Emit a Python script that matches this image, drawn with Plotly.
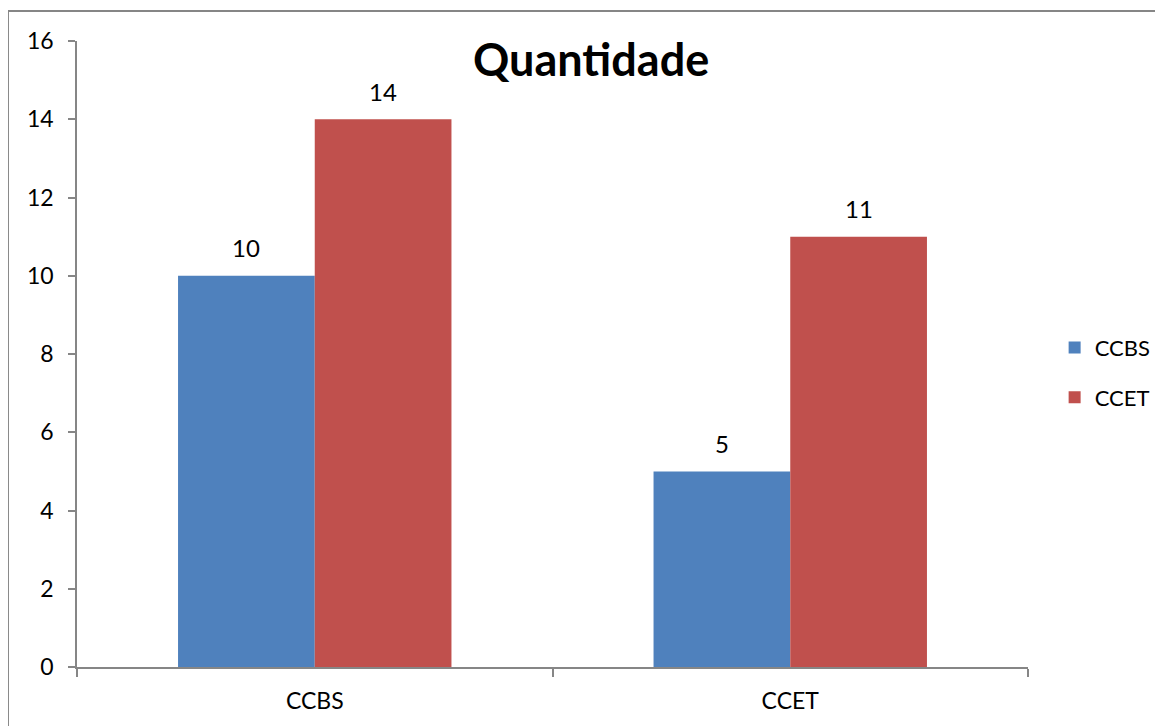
import plotly.graph_objects as go

categories = ["CCBS", "CCET"]
series_names = ["CCBS", "CCET"]
ccbs_values = [10, 5]
ccet_values = [14, 11]
y_ticks = [0, 2, 4, 6, 8, 10, 12, 14, 16]

colors = ["#4F81BD", "#C0504D"]
FONT = "Lato"
GRAY = "#868686"

fig = go.Figure()
for i, (name, vals) in enumerate(zip(series_names, [ccbs_values, ccet_values])):
    fig.add_trace(go.Bar(
        x=categories, y=vals, name=name,
        marker=dict(color=colors[i], line=dict(width=0)),
        legendgroup=name,
    ))

# data labels
bargap = 0.425
bar_w = (1 - bargap) / 2
for i, vals in enumerate([ccbs_values, ccet_values]):
    off = (i - 0.5) * bar_w
    for j, v in enumerate(vals):
        fig.add_annotation(
            x=j + off, y=v, xref="x", yref="y", text=str(v), showarrow=False,
            yshift=28, font=dict(family=FONT, size=24, color="black"),
        )

fig.add_annotation(
    x=0.54, y=1.0, xref="paper", yref="paper", text="<b>Quantidade</b>",
    showarrow=False, yanchor="top", yshift=11,
    font=dict(family=FONT, size=45, color="black"),
)

# chart border
fig.add_shape(type="rect", xref="paper", yref="paper",
              x0=-0.0726, x1=1.16, y0=-0.13, y1=1.048,
              line=dict(color=GRAY, width=2), fillcolor="rgba(0,0,0,0)", layer="below")

fig.update_layout(
    width=1163, height=726,
    margin=dict(l=69, r=143, t=33, b=67),
    paper_bgcolor="white", plot_bgcolor="white",
    barmode="group", bargap=bargap, bargroupgap=0,
    font=dict(family=FONT, size=23, color="black"),
    showlegend=True,
    legend=dict(x=1.028, y=0.47, xanchor="left", yanchor="middle",
                font=dict(family=FONT, size=22, color="black"),
                tracegroupgap=18, bgcolor="rgba(0,0,0,0)"),
    xaxis=dict(
        type="category", showline=True, linecolor=GRAY, linewidth=1.5,
        ticks="outside", tickson="boundaries", ticklen=8, tickcolor=GRAY, tickwidth=1.5,
        showgrid=False, ticklabelstandoff=13,
        tickfont=dict(family=FONT, size=23),
    ),
    yaxis=dict(
        range=[0, 16], tickvals=y_ticks, showline=True, linecolor=GRAY, linewidth=1.5,
        ticks="outside", ticklen=7, tickcolor=GRAY, tickwidth=1.5,
        showgrid=False, zeroline=False, ticklabelstandoff=10,
        tickfont=dict(family=FONT, size=23),
    ),
)

fig.write_html("out.html")
